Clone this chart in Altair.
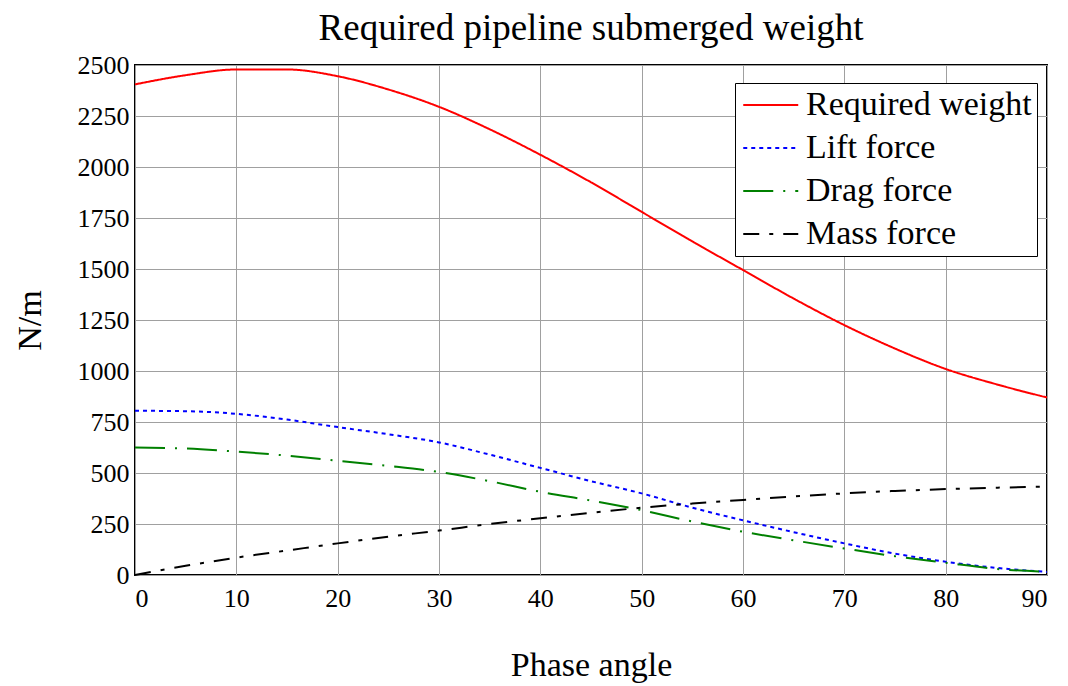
import altair as alt
import pandas as pd

angles = [0, 5, 10, 15, 20, 25, 30, 35, 40, 45, 50, 55, 60, 65, 70, 75, 80, 85, 90]
required_weight = [2405, 2450, 2478, 2478, 2445, 2380, 2295, 2185, 2060, 1925, 1780, 1635, 1495, 1355, 1225, 1110, 1010, 935, 870]
lift_force = [805, 803, 790, 762, 725, 690, 650, 590, 525, 460, 400, 330, 268, 210, 155, 105, 65, 35, 15]
drag_force = [625, 620, 605, 585, 560, 535, 505, 460, 408, 365, 318, 262, 212, 170, 130, 92, 60, 30, 15]
mass_force = [0, 45, 85, 120, 155, 188, 218, 250, 278, 305, 330, 350, 368, 385, 400, 412, 421, 428, 433]

series = ["Required weight", "Lift force", "Drag force", "Mass force"]
colors = ["#ff0000", "#0000ff", "#008000", "#000000"]
dashes = [[1, 0], [4, 4], [30, 10, 2, 10], [16, 10, 4, 10]]
x_ticks = [0, 10, 20, 30, 40, 50, 60, 70, 80, 90]
y_ticks = [0, 250, 500, 750, 1000, 1250, 1500, 1750, 2000, 2250, 2500]

rows = []
for name, vals in zip(series, [required_weight, lift_force, drag_force, mass_force]):
    for a, v in zip(angles, vals):
        rows.append({"angle": a, "value": v, "series": name})
df = pd.DataFrame(rows)

FONT = "Liberation Serif"

chart = alt.Chart(df).mark_line(strokeWidth=2, interpolate="monotone").encode(
    x=alt.X("angle:Q", scale=alt.Scale(domain=[0, 90], nice=False),
            axis=alt.Axis(values=x_ticks, format="d", title="Phase angle", titleX=456, titleY=90,
                          titleBaseline="middle", titleAlign="center")),
    y=alt.Y("value:Q", scale=alt.Scale(domain=[0, 2500], nice=False),
            axis=alt.Axis(values=y_ticks, format="d", title="N/m", titleX=-105, titleY=255,
                          titleBaseline="middle", titleAlign="center", titleAngle=-90)),
    color=alt.Color("series:N", scale=alt.Scale(domain=series, range=colors),
                    sort=series, legend=alt.Legend(title=None)),
    strokeDash=alt.StrokeDash("series:N", scale=alt.Scale(domain=series, range=dashes),
                              sort=series, legend=alt.Legend(title=None)),
    order=alt.Order("angle:Q"),
).properties(
    width=912,
    height=510,
    title=alt.TitleParams("Required pipeline submerged weight", font=FONT, fontSize=37,
                          fontWeight="normal", color="black", offset=4, anchor="middle"),
    autosize=alt.AutoSizeParams(type="none"),
    padding={"left": 127, "top": 57, "right": 13, "bottom": 110},
).configure_view(
    stroke="black", strokeWidth=2
).configure_axis(
    labelFont=FONT, labelFontSize=26, labelColor="black",
    titleFont=FONT, titleFontSize=34, titleFontWeight="normal", titleColor="black",
    grid=True, gridColor="#a0a0a0", gridWidth=1,
    ticks=False, domain=False, labelPadding=6,
).configure_axisX(labelPadding=10).configure_legend(
    orient="none", legendX=600, legendY=18,
    labelFont=FONT, labelFontSize=34, labelColor="black",
    symbolType="M-1,0H3", symbolSize=756, symbolStrokeWidth=2,
    strokeColor="black", fillColor="white", padding=5,
    rowPadding=9, labelOffset=32, labelLimit=400,
)

chart.save("out.html", embed_options={"renderer": "svg", "actions": False})
